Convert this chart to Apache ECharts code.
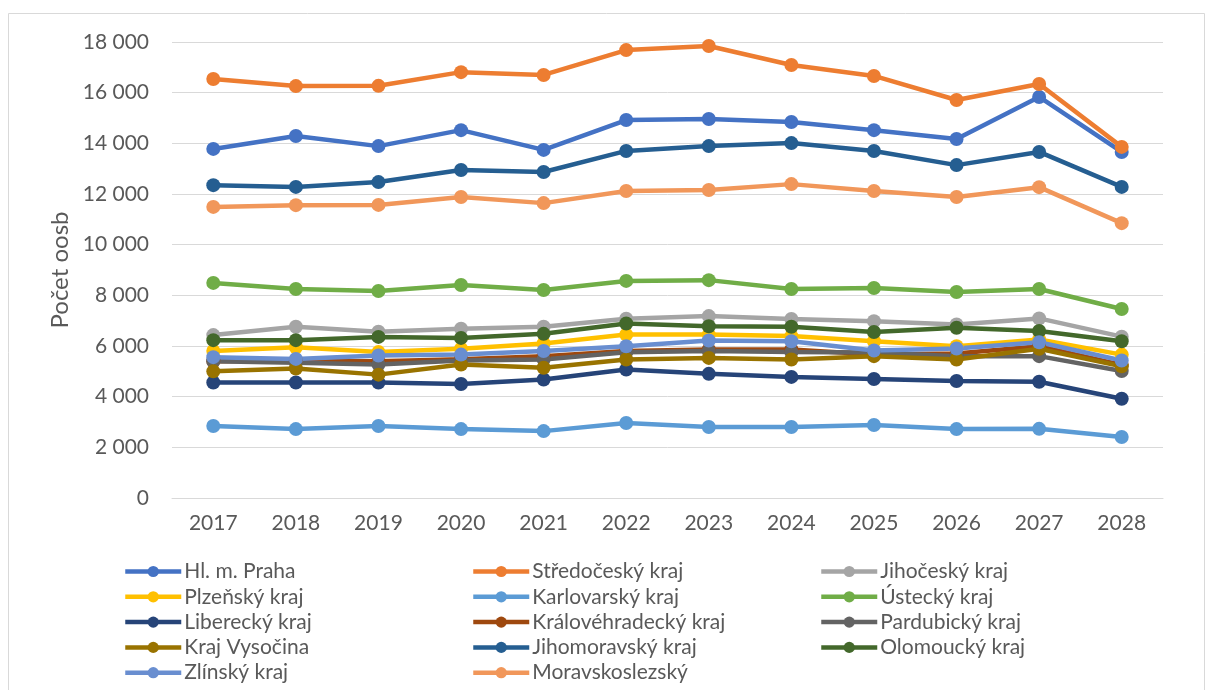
<!DOCTYPE html>
<html><head><meta charset="utf-8">
<script src="https://cdn.jsdelivr.net/npm/echarts@6/dist/echarts.min.js"></script>
<style>html,body{margin:0;padding:0;background:#fff}#c{width:1208px;height:690px}</style>
</head><body><div id="c"></div>
<script>
const years = ['2017','2018','2019','2020','2021','2022','2023','2024','2025','2026','2027','2028'];
const yTicks = [0, 2000, 4000, 6000, 8000, 10000, 12000, 14000, 16000, 18000];
const praha = [13780, 14290, 13890, 14520, 13740, 14920, 14960, 14840, 14520, 14170, 15830, 13660];
const stredocesky = [16540, 16260, 16270, 16810, 16700, 17680, 17840, 17090, 16660, 15710, 16340, 13860];
const jihocesky = [6430, 6760, 6560, 6680, 6760, 7080, 7180, 7070, 6980, 6850, 7090, 6370];
const plzensky = [5800, 5950, 5760, 5890, 6100, 6450, 6450, 6390, 6190, 5990, 6260, 5660];
const karlovarsky = [2840, 2720, 2840, 2720, 2640, 2960, 2800, 2800, 2880, 2720, 2730, 2410];
const ustecky = [8490, 8250, 8170, 8410, 8210, 8570, 8600, 8250, 8290, 8130, 8250, 7460];
const liberecky = [4560, 4560, 4560, 4500, 4680, 5070, 4900, 4780, 4700, 4620, 4590, 3920];
const kralovehradecky = [5400, 5420, 5400, 5480, 5600, 5800, 5860, 5860, 5660, 5700, 5990, 5250];
const pardubicky = [5400, 5340, 5270, 5430, 5470, 5750, 5800, 5760, 5740, 5600, 5600, 5010];
const vysocina = [5000, 5110, 4870, 5270, 5140, 5470, 5530, 5470, 5600, 5470, 5890, 5200];
const jihomoravsky = [12350, 12280, 12470, 12950, 12870, 13700, 13890, 14010, 13700, 13140, 13660, 12280];
const olomoucky = [6230, 6230, 6360, 6320, 6480, 6890, 6780, 6760, 6550, 6720, 6590, 6190];
const zlinsky = [5560, 5490, 5625, 5660, 5800, 5990, 6220, 6190, 5820, 5900, 6150, 5430];
const moravskoslezsky = [11490, 11560, 11570, 11880, 11640, 12120, 12160, 12390, 12120, 11880, 12270, 10850];

const seriesDefs = [
  ['Hl. m. Praha', praha, '#4472C4'],
  ['Středočeský kraj', stredocesky, '#ED7D31'],
  ['Jihočeský kraj', jihocesky, '#A5A5A5'],
  ['Plzeňský kraj', plzensky, '#FFC000'],
  ['Karlovarský kraj', karlovarsky, '#5B9BD5'],
  ['Ústecký kraj', ustecky, '#70AD47'],
  ['Liberecký kraj', liberecky, '#264478'],
  ['Královéhradecký kraj', kralovehradecky, '#9E480E'],
  ['Pardubický kraj', pardubicky, '#636363'],
  ['Kraj Vysočina', vysocina, '#997300'],
  ['Jihomoravský kraj', jihomoravsky, '#255E91'],
  ['Olomoucký kraj', olomoucky, '#43682B'],
  ['Zlínský kraj', zlinsky, '#698ED0'],
  ['Moravskoslezský', moravskoslezsky, '#F1975A']
];
const FONT = 'Lato';
const names = seriesDefs.map(d => d[0]);
const col1 = [names[0], names[3], names[6], names[9], names[12]];
const col2 = [names[1], names[4], names[7], names[10], names[13]];
const col3 = [names[2], names[5], names[8], names[11]];
const legendBase = {
  orient: 'vertical', top: 561, itemWidth: 56, itemHeight: 14, itemGap: 4.3, padding: 0,
  lineStyle: {width: 4.5},
  textStyle: {fontFamily: FONT, fontSize: 21, color: '#595959', padding: [0, 0, 0, -2]},
  selectedMode: false
};
const chart = echarts.init(document.getElementById('c'), null, {renderer: 'canvas'});
chart.setOption({
  animation: false,
  backgroundColor: '#fff',
  textStyle: {fontFamily: FONT},
  graphic: [{type: 'rect', shape: {x: 8.5, y: 13.5, width: 1196, height: 690}, style: {fill: 'none', stroke: '#D9D9D9', lineWidth: 1}, silent: true}],
  grid: {left: 172, right: 45, top: 42, bottom: 192},
  legend: [
    Object.assign({}, legendBase, {left: 123, data: col1}),
    Object.assign({}, legendBase, {left: 471, data: col2}),
    Object.assign({}, legendBase, {left: 819, data: col3})
  ],
  xAxis: {
    type: 'category', data: years, boundaryGap: true,
    axisLine: {lineStyle: {color: '#D9D9D9', width: 1}},
    axisTick: {show: false},
    axisLabel: {fontFamily: FONT, fontSize: 21, color: '#595959', margin: 15}
  },
  yAxis: {
    type: 'value', min: yTicks[0], max: yTicks[yTicks.length - 1], interval: 2000,
    name: 'Počet oosb', nameLocation: 'middle', nameRotate: 90, nameGap: 100,
    nameTextStyle: {fontFamily: FONT, fontSize: 24, color: '#595959'},
    axisLine: {show: false}, axisTick: {show: false},
    splitLine: {lineStyle: {color: '#D9D9D9', width: 1}},
    axisLabel: {fontFamily: FONT, fontSize: 21, color: '#595959', margin: 23,
      formatter: v => String(v).replace(/\B(?=(\d{3})+(?!\d))/g, ' ')}
  },
  series: seriesDefs.map(d => ({
    name: d[0], type: 'line', data: d[1], color: d[2],
    symbol: 'circle', symbolSize: 14, showAllSymbol: true,
    lineStyle: {width: 4.5, color: d[2]}, itemStyle: {color: d[2]},
    emphasis: {disabled: true}
  }))
});
</script></body></html>
